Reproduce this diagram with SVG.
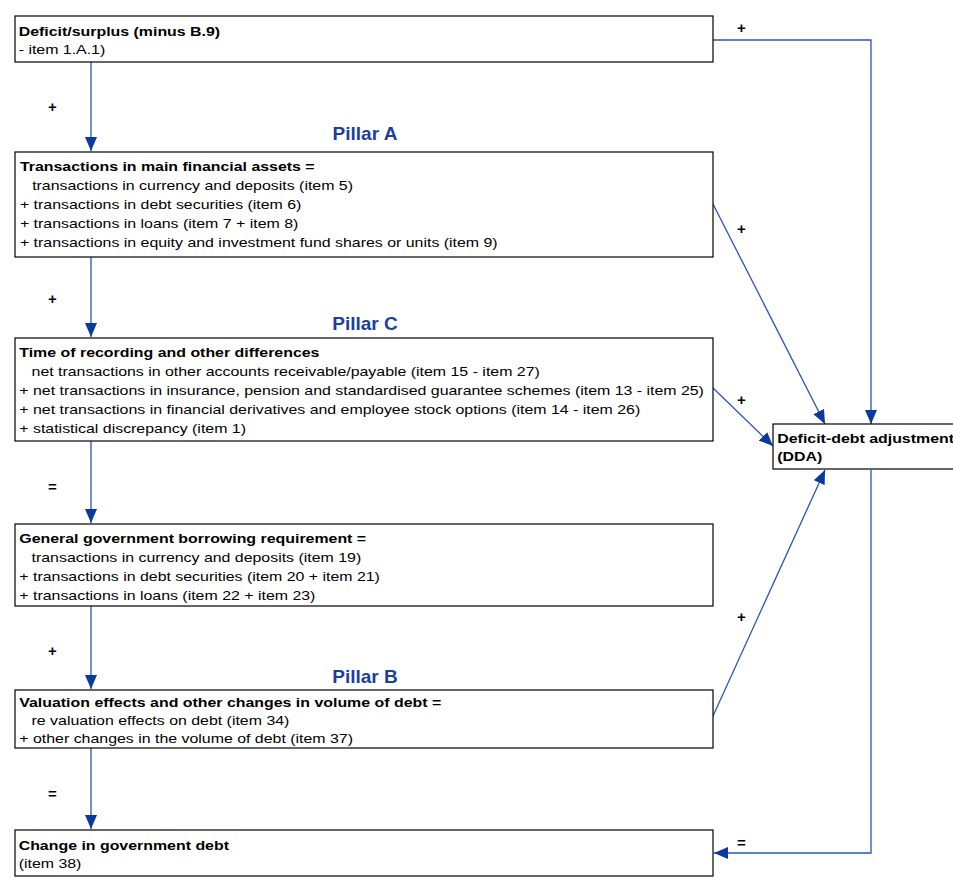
<svg xmlns="http://www.w3.org/2000/svg" width="953" height="891" viewBox="0 0 953 891">
<style>
.box{fill:#fff;stroke:#000;stroke-width:1.2}
.t{font-family:"Liberation Sans",Arial,sans-serif;font-size:13px;fill:#000}
.b{font-weight:bold}
.sym{font-family:"Liberation Sans",Arial,sans-serif;font-size:15px;font-weight:bold;fill:#000}
.pillar{font-family:"Liberation Sans",Arial,sans-serif;font-size:19px;font-weight:bold;fill:#1a3fa0}
.c{fill:none;stroke:#2a55b5;stroke-width:1.3}
</style>
<defs>
<marker id="ah" viewBox="0 0 14 12" refX="14" refY="6" markerWidth="14" markerHeight="12" markerUnits="userSpaceOnUse" orient="auto">
<path d="M0,0 L14,6 L0,12 z" fill="#0a3a9e"/>
</marker>
</defs>
<rect width="953" height="891" fill="#fff"/>
<g id="connectors">
<path class="c" d="M91,62 V151" marker-end="url(#ah)"/>
<path class="c" d="M91,257 V337" marker-end="url(#ah)"/>
<path class="c" d="M91,441 V523" marker-end="url(#ah)"/>
<path class="c" d="M91,606 V689" marker-end="url(#ah)"/>
<path class="c" d="M91,748 V829" marker-end="url(#ah)"/>
<path class="c" d="M713,40 H871 V424" marker-end="url(#ah)"/>
<path class="c" d="M713,204 L825,424" marker-end="url(#ah)"/>
<path class="c" d="M713,388 L773,446" marker-end="url(#ah)"/>
<path class="c" d="M713,716 L825,470" marker-end="url(#ah)"/>
<path class="c" d="M871,470 V853 H714" marker-end="url(#ah)"/>
<text class="sym" x="737" y="33">+</text>
<text class="sym" x="48" y="112">+</text>
<text class="sym" x="737" y="234">+</text>
<text class="sym" x="48" y="304">+</text>
<text class="sym" x="737" y="405">+</text>
<text class="sym" x="48" y="492">=</text>
<text class="sym" x="737" y="622">+</text>
<text class="sym" x="48" y="656">+</text>
<text class="sym" x="48" y="799">=</text>
<text class="sym" x="737" y="848">=</text>
</g>
<g id="pillars">
<text class="pillar" x="365" y="140" text-anchor="middle">Pillar A</text>
<text class="pillar" x="365" y="330" text-anchor="middle">Pillar C</text>
<text class="pillar" x="365" y="683" text-anchor="middle">Pillar B</text>
</g>
<g id="n1">
<rect class="box" x="15" y="16" width="698" height="46"/>
<g transform="translate(15,0) scale(1.225,1)">
<text class="t b" x="3" y="36">Deficit/surplus (minus B.9)</text>
<text class="t" x="3" y="54">- item 1.A.1)</text>
</g>
</g>
<g id="n2">
<rect class="box" x="15" y="152" width="698" height="105"/>
<g transform="translate(15,0) scale(1.225,1)">
<text class="t b" x="4" y="171">Transactions in main financial assets =</text>
<text class="t" x="14" y="190">transactions in currency and deposits (item 5)</text>
<text class="t" x="4" y="209">+ transactions in debt securities (item 6)</text>
<text class="t" x="4" y="228">+ transactions in loans (item 7 + item 8)</text>
<text class="t" x="4" y="247">+ transactions in equity and investment fund shares or units (item 9)</text>
</g>
</g>
<g id="n3">
<rect class="box" x="15" y="338" width="698" height="103"/>
<g transform="translate(15,0) scale(1.225,1)">
<text class="t b" x="3.5" y="357">Time of recording and other differences</text>
<text class="t" x="13.5" y="376">net transactions in other accounts receivable/payable (item 15 - item 27)</text>
<text class="t" x="3.5" y="395">+ net transactions in insurance, pension and standardised guarantee schemes (item 13 - item 25)</text>
<text class="t" x="3.5" y="414">+ net transactions in financial derivatives and employee stock options (item 14 - item 26)</text>
<text class="t" x="3.5" y="433">+ statistical discrepancy (item 1)</text>
</g>
</g>
<g id="n4">
<rect class="box" x="15" y="524" width="698" height="82"/>
<g transform="translate(15,0) scale(1.225,1)">
<text class="t b" x="3.5" y="543">General government borrowing requirement =</text>
<text class="t" x="13.5" y="562">transactions in currency and deposits (item 19)</text>
<text class="t" x="3.5" y="581">+ transactions in debt securities (item 20 + item 21)</text>
<text class="t" x="3.5" y="600">+ transactions in loans (item 22 + item 23)</text>
</g>
</g>
<g id="n5">
<rect class="box" x="15" y="690" width="698" height="58"/>
<g transform="translate(15,0) scale(1.225,1)">
<text class="t b" x="3.5" y="707">Valuation effects and other changes in volume of debt =</text>
<text class="t" x="13.5" y="725">re valuation effects on debt (item 34)</text>
<text class="t" x="3.5" y="743">+ other changes in the volume of debt (item 37)</text>
</g>
</g>
<g id="n6">
<rect class="box" x="15" y="830" width="698" height="46"/>
<g transform="translate(15,0) scale(1.225,1)">
<text class="t b" x="3" y="850">Change in government debt</text>
<text class="t" x="3" y="868">(item 38)</text>
</g>
</g>
<g id="n7">
<rect class="box" x="773" y="424" width="190" height="45"/>
<g transform="translate(773,0) scale(1.225,1)">
<text class="t b" x="3.5" y="443">Deficit-debt adjustment</text>
<text class="t b" x="3.5" y="461">(DDA)</text>
</g>
</g>
</svg>
